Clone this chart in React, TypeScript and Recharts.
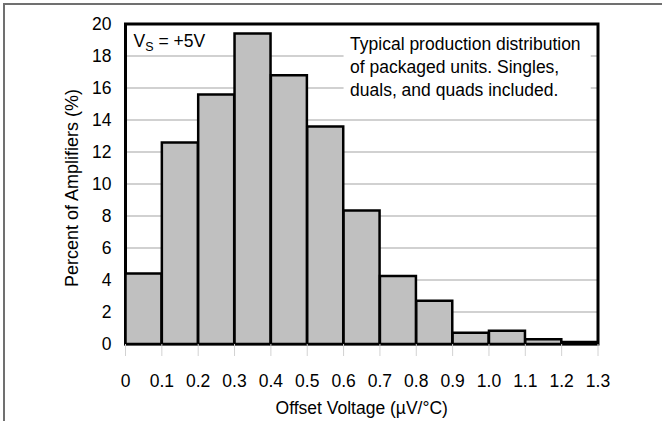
import React from "react";
import { BarChart, Bar, XAxis, YAxis, CartesianGrid, ReferenceArea, Label } from "recharts";

const binStarts = [0, 0.1, 0.2, 0.3, 0.4, 0.5, 0.6, 0.7, 0.8, 0.9, 1.0, 1.1, 1.2];
const percentValues = [4.4, 12.6, 15.6, 19.4, 16.8, 13.6, 8.35, 4.25, 2.7, 0.7, 0.83, 0.29, 0.12];
const xTicks = [0, 0.1, 0.2, 0.3, 0.4, 0.5, 0.6, 0.7, 0.8, 0.9, 1.0, 1.1, 1.2, 1.3];
const xTickLabels = ["0", "0.1", "0.2", "0.3", "0.4", "0.5", "0.6", "0.7", "0.8", "0.9", "1.0", "1.1", "1.2", "1.3"];
const yTicks = [0, 2, 4, 6, 8, 10, 12, 14, 16, 18, 20];
const noteLines = [
  "Typical production distribution",
  "of packaged units. Singles,",
  "duals, and quads included.",
];
const xTitle = "Offset Voltage (\u00B5V/\u00B0C)";
const yTitle = "Percent of Amplifiers (%)";

const BIN_WIDTH = 0.1;
const data = binStarts.map((s, i) => ({
  mid: Math.round((s + BIN_WIDTH / 2) * 100) / 100,
  pct: percentValues[i],
}));

const FONT = "'Liberation Sans', Arial, sans-serif";
const FS = 17.5;

export default function App() {
  return (
    <div style={{ position: "absolute", left: 0, top: 0, width: 662, height: 421, background: "#fff" }}>
      <div
        style={{
          position: "absolute",
          left: 3,
          top: 3,
          width: 659,
          height: 418,
          borderTop: "2px solid #707070",
          borderLeft: "2px solid #707070",
          boxSizing: "border-box",
        }}
      />
      <div style={{ position: "absolute", left: 0, top: 0 }}>
        <BarChart
          width={662}
          height={421}
          data={data}
          margin={{ top: 24, right: 64, bottom: 0, left: 0 }}
          barCategoryGap={0}
          barGap={0}
          style={{ fontFamily: FONT }}
        >
          <CartesianGrid horizontal vertical={false} stroke="#a3a3a3" strokeWidth={1} />
          <XAxis
            type="number"
            dataKey="mid"
            domain={[0, 1.3]}
            ticks={xTicks}
            interval={0}
            height={77}
            axisLine={false}
            tickLine={{ stroke: "#d2d2d2", strokeWidth: 1 }}
            tickSize={12}
            tickMargin={19}
            tick={{ fill: "#000", fontSize: FS, fontFamily: FONT }}
            tickFormatter={(v: number, i: number) => xTickLabels[i]}
          >
            <Label
              content={(props: any) => {
                const vb = props.viewBox || {};
                return (
                  <text
                    x={vb.x + vb.width / 2}
                    y={vb.y + 70}
                    textAnchor="middle"
                    fill="#000"
                    fontSize={FS}
                    fontFamily={FONT}
                  >
                    {xTitle}
                  </text>
                );
              }}
            />
          </XAxis>
          <YAxis
            type="number"
            domain={[0, 20]}
            ticks={yTicks}
            interval={0}
            width={125.5}
            axisLine={false}
            tickLine={false}
            tickSize={0}
            tickMargin={14}
            tick={{ fill: "#000", fontSize: FS, fontFamily: FONT }}
          >
            <Label
              content={(props: any) => {
                const vb = props.viewBox || {};
                const cx = vb.x + 72;
                const cy = vb.y + vb.height / 2 + 4;
                return (
                  <text
                    x={cx}
                    y={cy}
                    transform={`rotate(-90 ${cx} ${cy})`}
                    textAnchor="middle"
                    dominantBaseline="central"
                    fill="#000"
                    fontSize={18}
                    fontFamily={FONT}
                  >
                    {yTitle}
                  </text>
                );
              }}
            />
          </YAxis>
          <ReferenceArea
            x1={0.6}
            x2={1.28}
            y1={15.3}
            y2={20}
            fill="#fff"
            fillOpacity={1}
            stroke="none"
            ifOverflow="visible"
            label={(props: any) => {
              const vb = props.viewBox || {};
              return (
                <text fill="#000" fontSize={FS} fontFamily={FONT}>
                  {noteLines.map((l, i) => (
                    <tspan key={i} x={vb.x + 6.5} y={vb.y + 26 + i * 23}>
                      {l}
                    </tspan>
                  ))}
                </text>
              );
            }}
          />
          <ReferenceArea
            x1={0}
            x2={0.3}
            y1={18.2}
            y2={20}
            fill="none"
            stroke="none"
            ifOverflow="visible"
            label={(props: any) => {
              const vb = props.viewBox || {};
              return (
                <text x={vb.x + 8} y={vb.y + 23} fill="#000" fontSize={FS} fontFamily={FONT}>
                  V
                  <tspan fontSize={12.5} dy={4}>S</tspan>
                  <tspan dy={-4}>{" = +5V"}</tspan>
                </text>
              );
            }}
          />
          <Bar
            dataKey="pct"
            fill="#c0c0c0"
            stroke="#000"
            strokeWidth={2.5}
            isAnimationActive={false}
          />
          <ReferenceArea
            x1={0}
            x2={1.3}
            y1={0}
            y2={20}
            fill="none"
            stroke="#000"
            strokeWidth={3}
            ifOverflow="visible"
          />
        </BarChart>
      </div>
    </div>
  );
}
